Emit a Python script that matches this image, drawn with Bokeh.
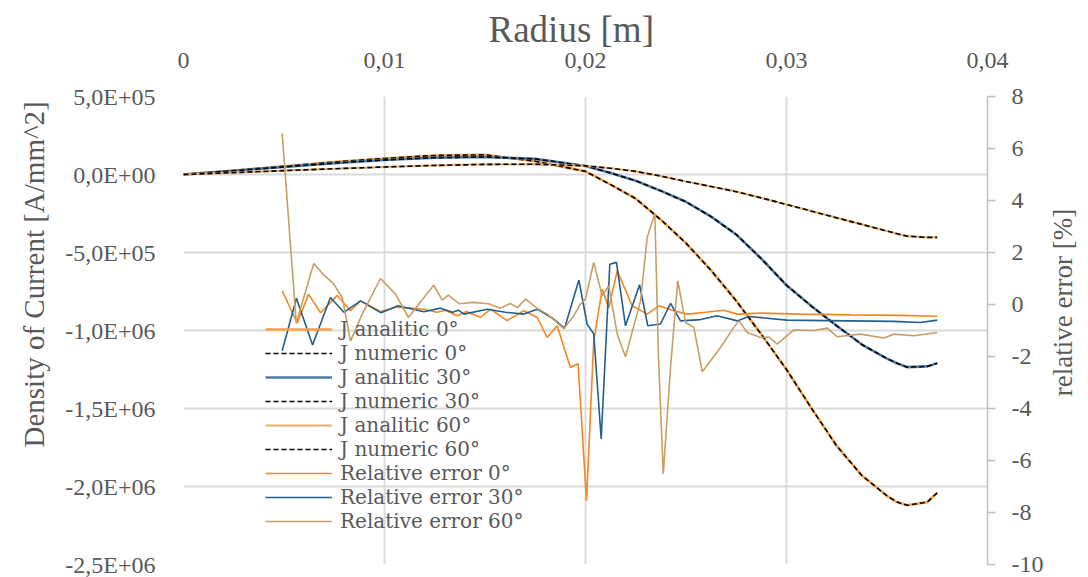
import math
from bokeh.plotting import figure
from bokeh.models import Range1d, LinearAxis, FixedTicker, Legend, LegendItem, Title, Label
from bokeh.embed import file_html
from bokeh.resources import INLINE

# ---------------- data ----------------
radius = [0.0, 0.0025, 0.005, 0.0075, 0.01, 0.0125, 0.015, 0.0175, 0.02, 0.02125, 0.0225,
          0.02375, 0.025, 0.02625, 0.0275, 0.02875, 0.03, 0.03125, 0.0325, 0.03375, 0.035,
          0.0355, 0.036, 0.037, 0.0375]
j_analitic_0 = [0, 2.6e4, 5.3e4, 8.0e4, 1.03e5, 1.22e5, 1.26e5, 8.5e4, 2.0e4, -6.5e4, -1.55e5,
                -2.9e5, -4.4e5, -6.15e5, -8.1e5, -1.025e6, -1.25e6, -1.5e6, -1.74e6, -1.93e6, -2.06e6,
                -2.1e6, -2.12e6, -2.10e6, -2.04e6]
j_numeric_0 = [0, 2.6e4, 5.3e4, 8.0e4, 1.03e5, 1.22e5, 1.26e5, 8.5e4, 2.0e4, -6.5e4, -1.55e5,
               -2.9e5, -4.4e5, -6.15e5, -8.1e5, -1.025e6, -1.25e6, -1.5e6, -1.74e6, -1.93e6, -2.06e6,
               -2.1e6, -2.12e6, -2.10e6, -2.04e6]
j_analitic_30 = [0, 2.4e4, 4.9e4, 7.3e4, 9.3e4, 1.08e5, 1.12e5, 1.0e5, 5.5e4, 1.0e4, -4.0e4,
                 -1.05e5, -1.75e5, -2.7e5, -3.85e5, -5.4e5, -7.1e5, -8.45e5, -9.7e5, -1.09e6, -1.18e6,
                 -1.21e6, -1.235e6, -1.23e6, -1.21e6]
j_numeric_30 = [0, 2.4e4, 4.9e4, 7.3e4, 9.3e4, 1.08e5, 1.12e5, 1.0e5, 5.5e4, 1.0e4, -4.0e4,
                -1.05e5, -1.75e5, -2.7e5, -3.85e5, -5.4e5, -7.1e5, -8.45e5, -9.7e5, -1.09e6, -1.18e6,
                -1.21e6, -1.235e6, -1.23e6, -1.21e6]
j_analitic_60 = [0, 1.2e4, 2.5e4, 3.7e4, 4.8e4, 5.8e4, 6.5e4, 6.6e4, 5.5e4, 4.0e4, 2.0e4,
                 -1.0e4, -4.5e4, -7.7e4, -1.1e5, -1.5e5, -1.92e5, -2.35e5, -2.78e5, -3.2e5, -3.62e5,
                 -3.8e5, -3.95e5, -4.03e5, -4.03e5]
j_numeric_60 = [0, 1.2e4, 2.5e4, 3.7e4, 4.8e4, 5.8e4, 6.5e4, 6.6e4, 5.5e4, 4.0e4, 2.0e4,
                -1.0e4, -4.5e4, -7.7e4, -1.1e5, -1.5e5, -1.92e5, -2.35e5, -2.78e5, -3.2e5, -3.62e5,
                -3.8e5, -3.95e5, -4.03e5, -4.03e5]

err0_r = [0.00491, 0.00566, 0.00622, 0.00682, 0.00765, 0.00831, 0.00881, 0.00980, 0.01063,
          0.01194, 0.01262, 0.01303, 0.01362, 0.01408, 0.01478, 0.01527, 0.01610, 0.01693,
          0.01760, 0.01809, 0.01859, 0.01925, 0.01963, 0.02005, 0.02041, 0.02083, 0.02116,
          0.02158, 0.02232, 0.02307, 0.02365, 0.02439, 0.02506, 0.02597, 0.02688, 0.02755,
          0.02871, 0.03070, 0.03318, 0.03567, 0.0375]
err0 = [0.53, -0.72, 0.40, -0.32, 0.35, -0.24, 0.14, -0.27, -0.10,
        -0.18, -0.30, -0.22, -0.43, -0.27, -0.50, -0.18, -0.62, -0.24,
        -0.50, -1.27, -0.82, -2.42, -2.28, -7.55, -1.40, 0.59, -0.12,
        1.30, -0.05, -0.37, -0.05, -0.24, -0.37, -0.30, -0.22, -0.37,
        -0.33, -0.37, -0.40, -0.42, -0.45]

err30_r = [0.00491, 0.00562, 0.00642, 0.00731, 0.00798, 0.00881, 0.00983, 0.01067, 0.01196,
           0.01279, 0.01338, 0.01368, 0.01395, 0.01511, 0.01602, 0.01693, 0.01760, 0.01842,
           0.01896, 0.01967, 0.02008, 0.02041, 0.02078, 0.02121, 0.02154, 0.02199, 0.02269,
           0.02310, 0.02373, 0.02423, 0.02473, 0.02572, 0.02655, 0.02755, 0.02812, 0.03003,
           0.03202, 0.03532, 0.03667, 0.0375]
err30 = [-1.78, 0.24, -1.56, 0.27, -0.30, 0.14, -0.32, -0.05, -0.28,
         -0.14, -0.30, -0.22, -0.37, -0.18, -0.30, -0.37, -0.18, -0.56,
         -0.91, 0.94, -0.75, -1.13, -5.17, 1.55, 1.62, -0.82, 0.76,
         -0.82, -0.75, 0.04, -0.63, -0.58, -0.43, -0.63, -0.46, -0.60,
         -0.62, -0.65, -0.69, -0.60]

err60_r = [0.00491, 0.00561, 0.00648, 0.00694, 0.00746, 0.00790, 0.00831, 0.00889, 0.00980,
           0.01055, 0.01119, 0.01179, 0.01245, 0.01287, 0.01318, 0.01370, 0.01443, 0.01517,
           0.01577, 0.01627, 0.01662, 0.01702, 0.01760, 0.01810, 0.01892, 0.01942, 0.01975,
           0.02000, 0.02041, 0.02083, 0.02116, 0.02158, 0.02199, 0.02274, 0.02307, 0.02345,
           0.02363, 0.02387, 0.02423, 0.02459, 0.02498, 0.02539, 0.02581, 0.02672, 0.02738,
           0.02763, 0.02805, 0.02871, 0.02912, 0.02954, 0.03036, 0.03136, 0.03203, 0.03252,
           0.03368, 0.03484, 0.03534, 0.03633, 0.0375]
err60 = [6.58, -0.72, 1.58, 1.17, 0.80, 0.27, -1.41, -0.37, 1.00,
         0.40, -0.50, 0.10, 0.74, 0.17, 0.36, 0.03, 0.08, 0.03,
         -0.14, 0.04, -0.12, 0.21, -0.15, -0.37, -0.93, -0.43, 0.02,
         0.21, 1.62, 0.33, 0.72, -1.14, -2.01, 0.14, 2.58, 3.50,
         -2.00, -6.52, -2.42, 0.91, -0.69, -0.88, -2.59, -1.65, -0.88,
         -0.63, -1.08, -1.27, -1.25, -1.52, -0.98, -1.00, -0.91, -1.24,
         -1.14, -1.29, -1.14, -1.20, -1.08]

x_ticks = [0, 0.01, 0.02, 0.03, 0.04]
x_tick_labels = ["0", "0,01", "0,02", "0,03", "0,04"]
y_ticks = [500000, 0, -500000, -1000000, -1500000, -2000000, -2500000]
y_tick_labels = ["5,0E+05", "0,0E+00", "-5,0E+05", "-1,0E+06", "-1,5E+06", "-2,0E+06", "-2,5E+06"]
err_ticks = [8, 6, 4, 2, 0, -2, -4, -6, -8, -10]
err_tick_labels = ["8", "6", "4", "2", "0", "-2", "-4", "-6", "-8", "-10"]

legend_labels = ["J analitic 0°", "J numeric 0°", "J analitic 30°", "J numeric 30°",
                 "J analitic 60°", "J numeric 60°", "Relative error 0°",
                 "Relative error 30°", "Relative error 60°"]
x_title = "Radius [m]"
y_title = "Density of Current [A/mm^2]"
y2_title = "relative error [%]"

# ---------------- styling ----------------
FONT = "Liberation Serif"
LEG_FONT = "DejaVu Serif"
TXT = "#595959"
GRID = "#D9D9D9"

p = figure(width=1088, height=577, output_backend="svg", toolbar_location=None,
           x_range=Range1d(0, 0.04), y_range=Range1d(-2.5e6, 5e5),
           x_axis_location="above",
           min_border_left=183, min_border_right=101, min_border_top=96, min_border_bottom=13)
p.outline_line_color = None
p.background_fill_color = "white"
p.border_fill_color = "white"

p.extra_y_ranges = {"err": Range1d(-10, 8)}

# grids
p.xgrid.ticker = FixedTicker(ticks=x_ticks)
p.ygrid.ticker = FixedTicker(ticks=y_ticks)
for g in (p.xgrid[0], p.ygrid[0]):
    g.grid_line_color = GRID
    g.grid_line_width = 1.8

# top x axis
xa = p.xaxis[0]
xa.ticker = FixedTicker(ticks=x_ticks)
xa.major_label_overrides = dict(zip(x_ticks, x_tick_labels))

# left y axis
ya = p.yaxis[0]
ya.ticker = FixedTicker(ticks=y_ticks)
ya.major_label_overrides = dict(zip(y_ticks, y_tick_labels))

# right axis (ticks + labels)
ra = LinearAxis(y_range_name="err", ticker=FixedTicker(ticks=err_ticks))
ra.major_label_overrides = dict(zip(err_ticks, err_tick_labels))
p.add_layout(ra, "right")

for ax in (xa, ya, ra):
    ax.major_label_text_font = FONT
    ax.major_label_text_color = TXT
    ax.major_label_text_font_size = "24px"
    ax.minor_tick_line_color = None

xa.axis_line_color = None
xa.major_tick_line_color = None
xa.major_label_standoff = 23

ya.axis_line_color = None
ya.major_tick_line_color = None
ya.major_label_standoff = 22

ra.axis_line_color = "#BFBFBF"
ra.axis_line_width = 1.5
ra.major_tick_line_color = "#BFBFBF"
ra.major_tick_line_width = 1.5
ra.major_tick_out = 8
ra.major_tick_in = 0
ra.major_label_standoff = 16

# titles
top_title = Title(text=x_title, align="left", offset=305, standoff=0,
                  text_font=FONT, text_font_size="37px", text_color=TXT,
                  text_font_style="normal")
p.add_layout(top_title, "above")
left_title = Title(text=y_title, align="left", offset=117, standoff=26,
                   text_font=FONT, text_font_size="29px", text_color=TXT,
                   text_font_style="normal")
p.add_layout(left_title, "left")
right_title = Label(x=16, y=262, x_units="screen", y_units="screen", text=y2_title,
                    angle=math.pi / 2, text_align="center", text_baseline="middle",
                    text_font=FONT, text_font_size="27px", text_color=TXT)
p.add_layout(right_title, "right")

# ---------------- glyphs ----------------
C0_J, C0_E = "#F7A14B", "#F5861F"
C30_J, C30_E = "#4F7BA3", "#245E8C"
C60_J, C60_E = "#E3AE70", "#C99E64"

r_ja0 = p.line(radius, j_analitic_0, line_color=C0_J, line_width=2.6)
r_jn0 = p.line(radius, j_numeric_0, line_color="black", line_width=1.6, line_dash="5 3")
r_ja30 = p.line(radius, j_analitic_30, line_color=C30_J, line_width=2.6)
r_jn30 = p.line(radius, j_numeric_30, line_color="black", line_width=1.6, line_dash="5 3")
r_ja60 = p.line(radius, j_analitic_60, line_color=C60_J, line_width=2.2)
r_jn60 = p.line(radius, j_numeric_60, line_color="black", line_width=1.6, line_dash="5 3")

r_e0 = p.line(err0_r, err0, y_range_name="err", line_color=C0_E, line_width=1.6)
r_e30 = p.line(err30_r, err30, y_range_name="err", line_color=C30_E, line_width=1.6)
r_e60 = p.line(err60_r, err60, y_range_name="err", line_color=C60_E, line_width=1.6)

renderers = [r_ja0, r_jn0, r_ja30, r_jn30, r_ja60, r_jn60, r_e0, r_e30, r_e60]
legend = Legend(items=[LegendItem(label=l, renderers=[r]) for l, r in zip(legend_labels, renderers)],
                location=(82, 31))
legend.border_line_color = None
legend.background_fill_alpha = 0
legend.label_text_font = LEG_FONT
legend.label_text_color = TXT
legend.label_text_font_size = "20px"
legend.glyph_width = 67
legend.glyph_height = 18
legend.label_height = 18
legend.spacing = 0
legend.padding = 0
legend.margin = 0
legend.label_standoff = 8
p.add_layout(legend, "center")

open("out.html", "w").write(file_html(p, INLINE))
